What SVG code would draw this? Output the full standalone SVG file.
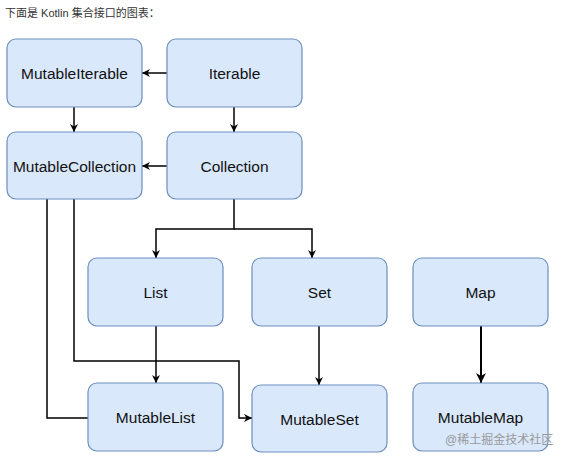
<svg xmlns="http://www.w3.org/2000/svg" width="564" height="461" viewBox="0 0 564 461">
<style>
.box{fill:#dae8fc;stroke:#6c8ebf;stroke-width:1.2}
.lbl{font-family:"Liberation Sans",Arial,sans-serif;font-size:15.5px;fill:#111;text-anchor:middle;dominant-baseline:central}
.edge{fill:none;stroke:#000;stroke-width:1.5}
</style>
<defs>
<marker id="arr" viewBox="0 0 10 10" refX="10" refY="5" markerWidth="8" markerHeight="8" markerUnits="userSpaceOnUse" orient="auto">
<path d="M0,0 L10,5 L0,10 L3,5 Z" fill="#000"/>
</marker>
<marker id="arr2" viewBox="0 0 10 10" refX="10" refY="5" markerWidth="10" markerHeight="10" markerUnits="userSpaceOnUse" orient="auto">
<path d="M0,0 L10,5 L0,10 L3,5 Z" fill="#000"/>
</marker>
</defs>
<rect width="564" height="461" fill="#fff"/>
<text x="5" y="17" font-family="'Liberation Sans','Noto Sans CJK SC',sans-serif" font-size="11" fill="#333">下面是 Kotlin 集合接口的图表：</text>
<g id="edges">
<path class="edge" d="M167,73 H142" marker-end="url(#arr)"/>
<path class="edge" d="M234,107 V132" marker-end="url(#arr)"/>
<path class="edge" d="M74,107 V132" marker-end="url(#arr)"/>
<path class="edge" d="M167,166 H142" marker-end="url(#arr)"/>
<path class="edge" d="M234,199 V229 H156 V258" marker-end="url(#arr)"/>
<path class="edge" d="M234,229 H312 V258" marker-end="url(#arr)"/>
<path class="edge" d="M47,199 V418 H88"/>
<path class="edge" d="M74,199 V361 H239 V418 H252" marker-end="url(#arr)"/>
<path class="edge" d="M156,326 V383" marker-end="url(#arr)"/>
<path class="edge" d="M319,326 V385" marker-end="url(#arr)"/>
<path class="edge" style="stroke-width:2" d="M481,326 V383" marker-end="url(#arr2)"/>
</g>
<g id="MutableIterable"><rect class="box" x="7" y="39" width="135" height="68" rx="9"/><text class="lbl" x="74.5" y="73">MutableIterable</text></g>
<g id="Iterable"><rect class="box" x="167" y="39" width="135" height="68" rx="9"/><text class="lbl" x="234.5" y="73">Iterable</text></g>
<g id="MutableCollection"><rect class="box" x="7" y="132" width="135" height="67" rx="9"/><text class="lbl" x="74.5" y="166">MutableCollection</text></g>
<g id="Collection"><rect class="box" x="167" y="132" width="135" height="67" rx="9"/><text class="lbl" x="234.5" y="166">Collection</text></g>
<g id="List"><rect class="box" x="88" y="258" width="135" height="68" rx="9"/><text class="lbl" x="155.5" y="292">List</text></g>
<g id="Set"><rect class="box" x="252" y="258" width="135" height="68" rx="9"/><text class="lbl" x="319.5" y="292">Set</text></g>
<g id="Map"><rect class="box" x="413" y="258" width="135" height="68" rx="9"/><text class="lbl" x="480.5" y="292">Map</text></g>
<g id="MutableList"><rect class="box" x="88" y="383" width="135" height="68" rx="9"/><text class="lbl" x="155.5" y="417">MutableList</text></g>
<g id="MutableSet"><rect class="box" x="252" y="385" width="135" height="67" rx="9"/><text class="lbl" x="319.5" y="419">MutableSet</text></g>
<g id="MutableMap"><rect class="box" x="413" y="383" width="135" height="68" rx="9"/><text class="lbl" x="480.5" y="417">MutableMap</text></g>
<text x="445" y="444" font-family="'Liberation Sans','Noto Sans CJK SC',sans-serif" font-size="12" fill="#999">@稀土掘金技术社区</text>
</svg>
